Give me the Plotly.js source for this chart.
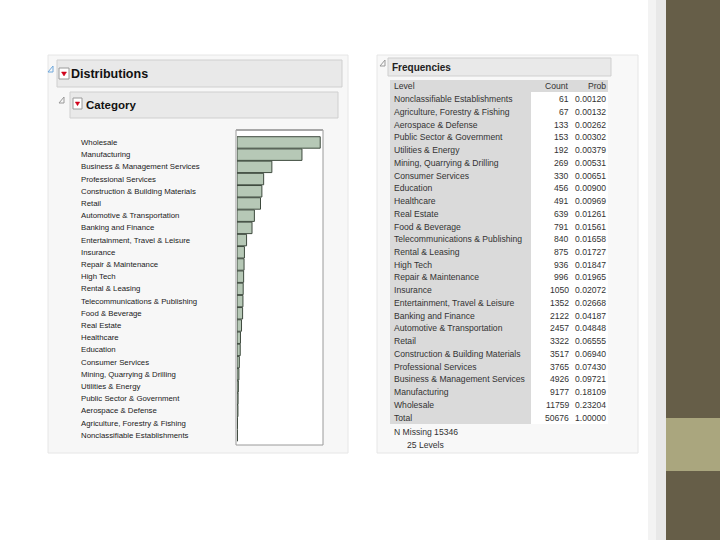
<!DOCTYPE html>
<html>
<head>
<meta charset="utf-8">
<script src="https://cdn.plot.ly/plotly-3.0.1.min.js"></script>
<style>html,body{margin:0;padding:0;background:#fff;}#chart{width:720px;height:540px;}</style>
</head>
<body>
<div id="chart"></div>
<script>
// ---- data (ascending by count, as in the JMP frequency table) ----
const levels = [
  "Nonclassifiable Establishments",
  "Agriculture, Forestry & Fishing",
  "Aerospace & Defense",
  "Public Sector & Government",
  "Utilities & Energy",
  "Mining, Quarrying & Drilling",
  "Consumer Services",
  "Education",
  "Healthcare",
  "Real Estate",
  "Food & Beverage",
  "Telecommunications & Publishing",
  "Rental & Leasing",
  "High Tech",
  "Repair & Maintenance",
  "Insurance",
  "Entertainment, Travel & Leisure",
  "Banking and Finance",
  "Automotive & Transportation",
  "Retail",
  "Construction & Building Materials",
  "Professional Services",
  "Business & Management Services",
  "Manufacturing",
  "Wholesale"
];
const counts = [61, 67, 133, 153, 192, 269, 330, 456, 491, 639, 791, 840, 875, 936, 996, 1050, 1352, 2122, 2457, 3322, 3517, 3765, 4926, 9177, 11759];
const probs = ["0.00120","0.00132","0.00262","0.00302","0.00379","0.00531","0.00651","0.00900","0.00969","0.01261","0.01561","0.01658","0.01727","0.01847","0.01965","0.02072","0.02668","0.04187","0.04848","0.06555","0.06940","0.07430","0.09721","0.18109","0.23204"];
const headerRow = ["Level", "Count", "Prob"];
const totalRow = ["Total", "50676", "1.00000"];
const missingText = "N Missing 15346";
const levelsText = "25 Levels";

// ---- helpers: pixel -> paper ----
const W = 720, H = 540;
const px = x => x / W;
const py = y => 1 - y / H;
function rect(x0, y0, x1, y1, fill, line, lw) {
  return {type: 'rect', xref: 'paper', yref: 'paper', x0: px(x0), x1: px(x1), y0: py(y1), y1: py(y0),
    fillcolor: fill, line: {color: line || fill, width: lw === undefined ? (line ? 1 : 0) : lw}, layer: 'below'};
}
function path(d, fill, line, lw) {
  return {type: 'path', xref: 'x3', yref: 'y3', path: d, fillcolor: fill, line: {color: line, width: lw}, layer: 'above'};
}

const labelFont = "Liberation Sans, Arial, sans-serif";
const regular = "Liberation Sans, Arial, sans-serif";

const shapes = [
  // slide decorations
  rect(648, 0, 656, 540, '#f3f3f3'),
  rect(656, 0, 666, 540, '#e8e8e8'),
  rect(666, 0, 720, 540, '#665e48'),
  rect(666, 418, 720, 471, '#aaa67e'),
  // left panel
  rect(48, 55, 348, 453, '#f7f7f7', '#e6e6e6'),
  rect(57, 60, 342, 87, '#e9e9e9', '#cfcfcf'),
  rect(70, 92, 338, 118, '#e9e9e9', '#cfcfcf'),
  // right panel
  rect(377, 55, 638, 453, '#f8f8f8', '#e6e6e6'),
  rect(388, 58, 611, 76, '#e9e9e9', '#cfcfcf'),
  rect(390, 80, 608, 92, '#dadada'),
  rect(390, 92, 531, 424, '#dadada'),
  rect(531, 92, 608, 424, '#ffffff'),
  // bar frame
  rect(236, 130, 323, 445, 'rgba(255,255,255,1)', '#9a9a9a', 1),
  rect(236, 129, 323, 131, '#a8a8a8')
];
// icons (drawn in pixel space on x3/y3)
shapes.push(path('M53,66 L53,72 L48,72 Z', 'rgba(0,0,0,0)', '#6fa8dc', 1));
shapes.push(path('M64,97 L64,103 L59,103 Z', 'rgba(0,0,0,0)', '#999999', 1));
shapes.push(path('M385,60 L385,66 L380,66 Z', 'rgba(0,0,0,0)', '#999999', 1));
shapes.push({type: 'rect', xref: 'x3', yref: 'y3', x0: 59, x1: 69, y0: 68, y1: 79, fillcolor: '#ffffff', line: {color: '#9a9a9a', width: 1}});
shapes.push(path('M61.5,72 L66.5,72 L64,76 Z', '#d0021b', '#d0021b', 0.5));
shapes.push({type: 'rect', xref: 'x3', yref: 'y3', x0: 73, x1: 82, y0: 98, y1: 109, fillcolor: '#ffffff', line: {color: '#9a9a9a', width: 1}});
shapes.push(path('M75.3,102 L79.7,102 L77.5,105.7 Z', '#d0021b', '#d0021b', 0.5));

const annotations = [];
// headers
annotations.push({xref: 'paper', yref: 'paper', x: px(69), y: py(74), xanchor: 'left', yanchor: 'middle', showarrow: false,
  text: '<b>Distributions</b>', font: {family: regular, size: 12.5, color: '#111'}});
annotations.push({xref: 'paper', yref: 'paper', x: px(84), y: py(105), xanchor: 'left', yanchor: 'middle', showarrow: false,
  text: '<b>Category</b>', font: {family: regular, size: 11.5, color: '#111'}});
annotations.push({xref: 'paper', yref: 'paper', x: px(390), y: py(67), xanchor: 'left', yanchor: 'middle', showarrow: false,
  text: '<b>Frequencies</b>', font: {family: regular, size: 10, color: '#222'}});

// bar chart labels (positioned on bar y-axis)
levels.forEach(l => {
  annotations.push({xref: 'paper', yref: 'y', x: px(79), y: l, xanchor: 'left', yanchor: 'middle', showarrow: false,
    text: l, font: {family: labelFont, size: 7.8, color: '#1a1a1a'}});
});

// table text (rows on yaxis2, columns in pixel space on xaxis2)
const tfont = {family: regular, size: 8.6, color: '#333'};
function cell(text, x, row, anchor) {
  annotations.push({xref: 'x2', yref: 'y2', x: x, y: row, xanchor: anchor, yanchor: 'middle', showarrow: false, text: text, font: tfont});
}
cell(headerRow[0], 392, 0, 'left');
cell(headerRow[1], 571, 0, 'right');
cell(headerRow[2], 608, 0, 'right');
levels.forEach((l, i) => {
  cell(l, 392, i + 1, 'left');
  cell(String(counts[i]), 571, i + 1, 'right');
  cell(probs[i], 608, i + 1, 'right');
});
cell(totalRow[0], 392, 26, 'left');
cell(totalRow[1], 571, 26, 'right');
cell(totalRow[2], 608, 26, 'right');
annotations.push({xref: 'paper', yref: 'paper', x: px(392), y: py(432), xanchor: 'left', yanchor: 'middle', showarrow: false,
  text: missingText, font: tfont});
annotations.push({xref: 'paper', yref: 'paper', x: px(405), y: py(445), xanchor: 'left', yanchor: 'middle', showarrow: false,
  text: levelsText, font: tfont});

const traces = [
  {type: 'bar', orientation: 'h', x: counts, y: levels, xaxis: 'x', yaxis: 'y',
   marker: {color: '#b6c8b6', line: {color: '#3e4a3e', width: 1}}, hoverinfo: 'x+y'},
  {type: 'scatter', mode: 'markers', x: [0], y: [0], xaxis: 'x2', yaxis: 'y2', marker: {opacity: 0}, hoverinfo: 'skip'},
  {type: 'scatter', mode: 'markers', x: [0], y: [0], xaxis: 'x3', yaxis: 'y3', marker: {opacity: 0}, hoverinfo: 'skip'}
];

const layout = {
  width: W, height: H, margin: {l: 0, r: 0, t: 0, b: 0},
  paper_bgcolor: '#ffffff', plot_bgcolor: 'rgba(0,0,0,0)', showlegend: false,
  bargap: 0.06,
  xaxis: {domain: [px(237), px(323)], range: [0, 12150], visible: false, fixedrange: true, anchor: 'y'},
  yaxis: {domain: [py(444), py(130)], range: [-0.71, 25.02], type: 'category', visible: false, fixedrange: true, anchor: 'x'},
  xaxis2: {domain: [0, 1], range: [0, 720], visible: false, anchor: 'y2'},
  yaxis2: {domain: [py(424), py(80)], range: [26.5, -0.5], visible: false, anchor: 'x2'},
  xaxis3: {domain: [0, 1], range: [0, 720], visible: false, anchor: 'y3'},
  yaxis3: {domain: [0, 1], range: [540, 0], visible: false, anchor: 'x3'},
  shapes: shapes,
  annotations: annotations
};

Plotly.newPlot('chart', traces, layout, {staticPlot: true});
</script>
</body>
</html>
